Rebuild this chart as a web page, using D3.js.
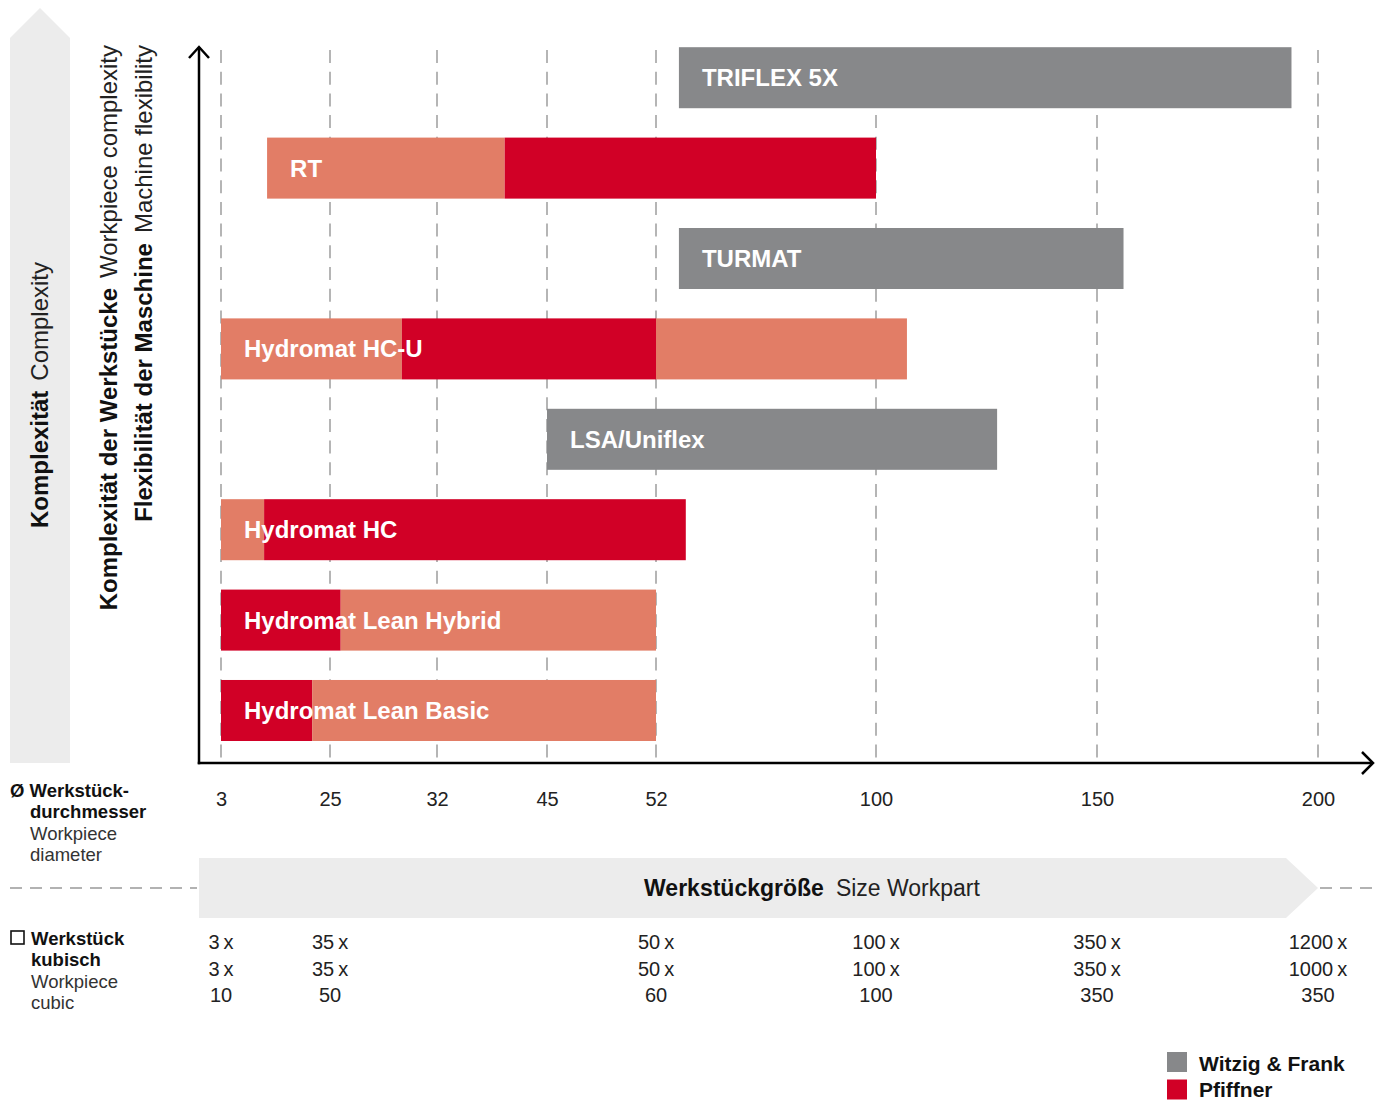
<!DOCTYPE html>
<html>
<head>
<meta charset="utf-8">
<script src="https://cdn.jsdelivr.net/npm/d3@7"></script>
<style>
  html, body { margin: 0; padding: 0; background: #fff; }
  svg { display: block; font-family: "Liberation Sans", Arial, Helvetica, sans-serif; }
</style>
</head>
<body>
<svg id="chart" width="1384" height="1100"></svg>
<script>
// ---------------- DATA ----------------
const machines = ["TRIFLEX 5X", "RT", "TURMAT", "Hydromat HC-U", "LSA/Uniflex",
                  "Hydromat HC", "Hydromat Lean Hybrid", "Hydromat Lean Basic"];

// [machine, from diameter, to diameter, kind]
const barSegments = [
  ["TRIFLEX 5X", 57, 194, "wf"],
  ["RT", 12.3, 40, "range"], ["RT", 40, 100, "pf"],
  ["TURMAT", 57, 156, "wf"],
  ["Hydromat HC-U", 3, 29.7, "range"], ["Hydromat HC-U", 29.7, 52, "pf"], ["Hydromat HC-U", 52, 107, "range"],
  ["LSA/Uniflex", 45, 127.4, "wf"],
  ["Hydromat HC", 3, 11.7, "range"], ["Hydromat HC", 11.7, 58.5, "pf"],
  ["Hydromat Lean Hybrid", 3, 25.7, "pf"], ["Hydromat Lean Hybrid", 25.7, 52, "range"],
  ["Hydromat Lean Basic", 3, 21.4, "pf"], ["Hydromat Lean Basic", 21.4, 52, "range"]
];

const diamTicks = [3, 25, 32, 45, 52, 100, 150, 200];

const cubicTicks = [3, 25, 52, 100, 150, 200];
const cubicRow1 = ["3", "35", "50", "100", "350", "1200"];
const cubicRow2 = ["3", "35", "50", "100", "350", "1000"];
const cubicRow3 = ["10", "50", "60", "100", "350", "350"];

const legendLabels = ["Witzig & Frank", "Pfiffner"];
const legendKinds = ["wf", "pf"];

// ---------------- STYLE / LAYOUT ----------------
const colors = { wf: "#87888a", pf: "#d10026", range: "#e27d66" };
const tickPixels = [221, 330, 437, 547, 656, 876, 1097, 1318]; // non-uniform axis layout

const svg = d3.select("#chart");

// scales
const x = d3.scaleLinear().domain(diamTicks).range(tickPixels);
const y = d3.scaleBand().domain(machines).range([47.2, 741]).paddingInner(0.325).paddingOuter(0);

const axisX = 199, axisY = 763;

// left tall arrow
svg.append("path")
  .attr("d", `M10,${axisY} L10,38 L40,8 L70,38 L70,${axisY} Z`)
  .attr("fill", "#ececec");

// vertical labels
function vLabel(tx, ty, anchor, bold, light) {
  const t = svg.append("text")
    .attr("transform", `translate(${tx},${ty}) rotate(-90)`)
    .attr("text-anchor", anchor)
    .attr("font-size", 24)
    .attr("fill", "#111");
  t.append("tspan").attr("font-weight", "bold").text(bold);
  t.append("tspan").attr("dx", 10).attr("fill", "#222").text(light);
}
vLabel(48, 395, "middle", "Komplexität", "Complexity");
vLabel(117, 45, "end", "Komplexität der Werkstücke", "Workpiece complexity");
vLabel(152, 45, "end", "Flexibilität der Maschine", "Machine flexibility");

// gridlines
svg.append("g").selectAll("line")
  .data(diamTicks)
  .join("line")
  .attr("x1", d => x(d)).attr("x2", d => x(d))
  .attr("y1", 50).attr("y2", axisY)
  .attr("stroke", "#a3a3a3")
  .attr("stroke-width", 1.6)
  .attr("stroke-dasharray", "13,8.7");

// bars
svg.append("g").selectAll("rect")
  .data(barSegments)
  .join("rect")
  .attr("x", d => x(d[1]))
  .attr("width", d => x(d[2]) - x(d[1]))
  .attr("y", d => y(d[0]))
  .attr("height", y.bandwidth())
  .attr("fill", d => colors[d[3]]);

// bar labels
const starts = machines.map(m => d3.min(barSegments.filter(s => s[0] === m), s => s[1]));
svg.append("g").selectAll("text")
  .data(machines)
  .join("text")
  .attr("x", (d, i) => x(starts[i]) + 23)
  .attr("y", d => y(d) + y.bandwidth() / 2 + 8.5)
  .attr("fill", "#fff")
  .attr("font-weight", "bold")
  .attr("font-size", 24)
  .text(d => d);

// axes with arrowheads
svg.append("line").attr("x1", axisX).attr("x2", axisX).attr("y1", 47).attr("y2", axisY + 1.25)
  .attr("stroke", "#000").attr("stroke-width", 2.5);
svg.append("path").attr("d", `M${axisX - 10},58 L${axisX},47 L${axisX + 10},58`)
  .attr("fill", "none").attr("stroke", "#000").attr("stroke-width", 2.5);
svg.append("line").attr("x1", axisX - 1.25).attr("x2", 1373).attr("y1", axisY).attr("y2", axisY)
  .attr("stroke", "#000").attr("stroke-width", 2.5);
svg.append("path").attr("d", `M1362,${axisY - 11} L1373,${axisY} L1362,${axisY + 11}`)
  .attr("fill", "none").attr("stroke", "#000").attr("stroke-width", 2.5);

// x tick labels via d3 axis
const xAxis = d3.axisBottom(x).tickValues(diamTicks).tickSize(0).tickPadding(0).tickFormat(d3.format("d"));
const gx = svg.append("g").attr("transform", `translate(0,790)`).call(xAxis);
gx.select(".domain").remove();
gx.selectAll("text").attr("font-size", 20).attr("fill", "#222")
  .attr("font-family", "\"Liberation Sans\", Arial, sans-serif").attr("dy", "0.8em");

// bottom-left labels
function stackLabel(lines) {
  lines.forEach(l => {
    svg.append("text").attr("x", l[0]).attr("y", l[1])
      .attr("font-size", 18.5)
      .attr("font-weight", l[3] ? "bold" : "normal")
      .attr("fill", l[3] ? "#111" : "#333")
      .text(l[2]);
  });
}
stackLabel([
  [10, 797, "Ø Werkstück-", true],
  [30, 818, "durchmesser", true],
  [30, 840, "Workpiece", false],
  [30, 861, "diameter", false]
]);
svg.append("rect").attr("x", 11).attr("y", 931).attr("width", 13).attr("height", 13)
  .attr("fill", "none").attr("stroke", "#111").attr("stroke-width", 1.6);
stackLabel([
  [31, 945, "Werkstück", true],
  [31, 966, "kubisch", true],
  [31, 988, "Workpiece", false],
  [31, 1009, "cubic", false]
]);

// size band
svg.append("path")
  .attr("d", `M${axisX},858 L1286,858 L1318,888 L1286,918 L${axisX},918 Z`)
  .attr("fill", "#ececec");
svg.append("line").attr("x1", 10).attr("x2", axisX - 2).attr("y1", 888).attr("y2", 888)
  .attr("stroke", "#999").attr("stroke-width", 1.3).attr("stroke-dasharray", "12,8");
svg.append("line").attr("x1", 1320).attr("x2", 1372).attr("y1", 888).attr("y2", 888)
  .attr("stroke", "#999").attr("stroke-width", 1.3).attr("stroke-dasharray", "12,8");
const band = svg.append("text").attr("x", 812).attr("y", 896).attr("text-anchor", "middle")
  .attr("font-size", 23).attr("fill", "#111");
band.append("tspan").attr("font-weight", "bold").text("Werkstückgröße");
band.append("tspan").attr("dx", 12).attr("fill", "#222").text("Size Workpart");

// cubic rows
[[cubicRow1, 949, true], [cubicRow2, 976, true], [cubicRow3, 1002, false]].forEach(r => {
  svg.append("g").selectAll("text")
    .data(cubicTicks)
    .join("text")
    .attr("x", d => x(d))
    .attr("y", r[1])
    .attr("text-anchor", "middle")
    .attr("font-size", 20)
    .attr("fill", "#222")
    .text((d, i) => r[2] ? r[0][i] + "\u2009x" : r[0][i]);
});

// legend
const lg = svg.append("g");
legendKinds.forEach((k, i) => {
  lg.append("rect").attr("x", 1167).attr("y", 1052 + i * 27.5).attr("width", 20).attr("height", 20)
    .attr("fill", colors[k]);
  lg.append("text").attr("x", 1199).attr("y", 1071 + i * 25.5)
    .attr("font-size", 21).attr("font-weight", "bold").attr("fill", "#111")
    .text(legendLabels[i]);
});
</script>
</body>
</html>
